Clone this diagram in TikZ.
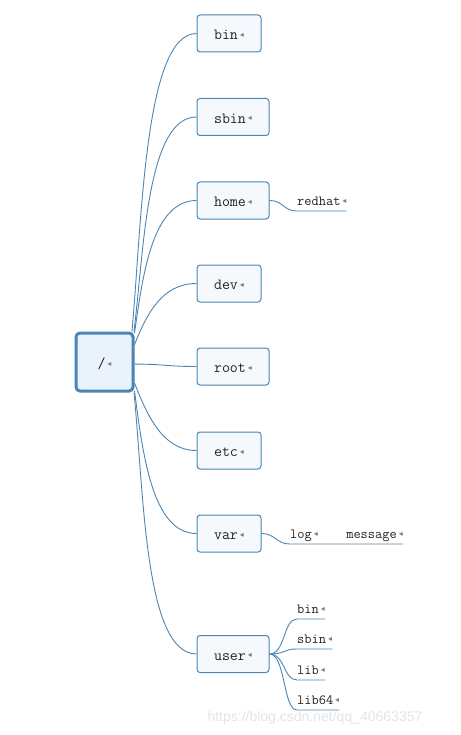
\documentclass[tikz,border=0pt]{standalone}
\usepackage{fontspec}
\newfontfamily\dejavu{DejaVu Sans}
\newfontfamily\wmfont{Liberation Sans}
\definecolor{edge}{HTML}{4A86B5}
\definecolor{boxfill}{HTML}{F5F9FD}
\definecolor{rootfill}{HTML}{EAF2FC}
\definecolor{txt}{HTML}{222222}
\definecolor{wmark}{HTML}{E4E4E4}
\newcommand{\parmark}{\kern2pt\raisebox{0.35ex}{\dejavu\fontsize{8}{8}\selectfont\color{gray}◂}}
\begin{document}
\begin{tikzpicture}[x=1pt,y=-1pt,
  dirbox/.style={draw=edge, line width=1pt, fill=boxfill, rounded corners=3pt,
    minimum height=37pt, inner sep=0pt, text=txt, text height=13pt, text depth=0.5pt,
    font=\ttfamily\fontsize{15.5}{17}\selectfont},
  shortbox/.style={dirbox, minimum width=64pt},
  longbox/.style={dirbox, minimum width=72pt},
  rootbox/.style={draw=edge, line width=3pt, fill=rootfill, rounded corners=4pt,
    minimum width=57pt, minimum height=58pt, inner sep=0pt, text=txt,
    text height=14pt, text depth=1pt,
    font=\ttfamily\fontsize{15.5}{17}\selectfont},
  leaf/.style={inner xsep=0pt, inner ysep=2pt, text depth=3pt, text=txt,
    font=\ttfamily\fontsize{14}{16}\selectfont},
  link/.style={draw=edge, line width=0.9pt},
  watermark/.style={text=wmark, font=\wmfont\fontsize{14}{16}\selectfont}
]
\useasboundingbox (0,0) rectangle (460,735);

% root
\node[rootbox] (r) at (104.5,362) {/\parmark};

% directories
\node[shortbox] (bin)   at (229,33.5)  {bin\parmark};
\node[longbox]  (sbin)  at (233,117)   {sbin\parmark};
\node[longbox]  (home)  at (233,200.5) {home\parmark};
\node[shortbox] (dev)   at (229,283.5) {dev\parmark};
\node[longbox]  (rootd) at (233,366.5) {root\parmark};
\node[shortbox] (etc)   at (229,450.5) {etc\parmark};
\node[shortbox] (var)   at (229,533.5) {var\parmark};
\node[longbox]  (user)  at (233,654)   {user\parmark};

% connectors from root
\draw[link] (r.48)  .. controls +(10,-110) and +(-52,0) .. (bin.west);
\draw[link] (r.46)  .. controls +(10,-80)  and +(-50,0) .. (sbin.west);
\draw[link] (r.44)  .. controls +(8,-55)   and +(-45,0) .. (home.west);
\draw[link] (r.30)  .. controls +(12,-30)  and +(-35,0) .. (dev.west);
\draw[link] (r.-4)  .. controls +(30,0)    and +(-30,0) .. (rootd.west);
\draw[link] (r.-35) .. controls +(12,30)   and +(-35,0) .. (etc.west);
\draw[link] (r.-44) .. controls +(8,60)    and +(-45,0) .. (var.west);
\draw[link] (r.-46) .. controls +(10,100)  and +(-52,0) .. (user.west);

% home -> redhat
\node[leaf, anchor=south west] (redhat) at (297,211) {redhat\parmark};
\draw[link] (home.east) .. controls +(14,0) and +(-14,0) .. (redhat.south west) -- (redhat.south east);

% var -> log -> message
\node[leaf, anchor=south west] (log) at (290,544) {log\parmark};
\node[leaf, anchor=south east] (message) at (403,544) {message\parmark};
\draw[link] (var.east) .. controls +(14,0) and +(-14,0) .. (log.south west) -- (message.south east);

% user -> children
\node[leaf, anchor=south west] (ubin)   at (297,619) {bin\parmark};
\node[leaf, anchor=south west] (usbin)  at (297,649) {sbin\parmark};
\node[leaf, anchor=south west] (ulib)   at (297,680) {lib\parmark};
\node[leaf, anchor=south west] (ulib64) at (297,710) {lib64\parmark};
\draw[link] (user.east) .. controls +(16,0) and +(-14,0) .. (ubin.south west) -- (ubin.south east);
\draw[link] (user.east) .. controls +(16,0) and +(-14,0) .. (usbin.south west) -- (usbin.south east);
\draw[link] (user.east) .. controls +(16,0) and +(-14,0) .. (ulib.south west) -- (ulib.south east);
\draw[link] (user.east) .. controls +(16,0) and +(-14,0) .. (ulib64.south west) -- (ulib64.south east);

% watermark
\node[watermark, anchor=west] (wm) at (204,718) {https://blog.csdn.net/qq\_40663357};
\end{tikzpicture}
\end{document}
